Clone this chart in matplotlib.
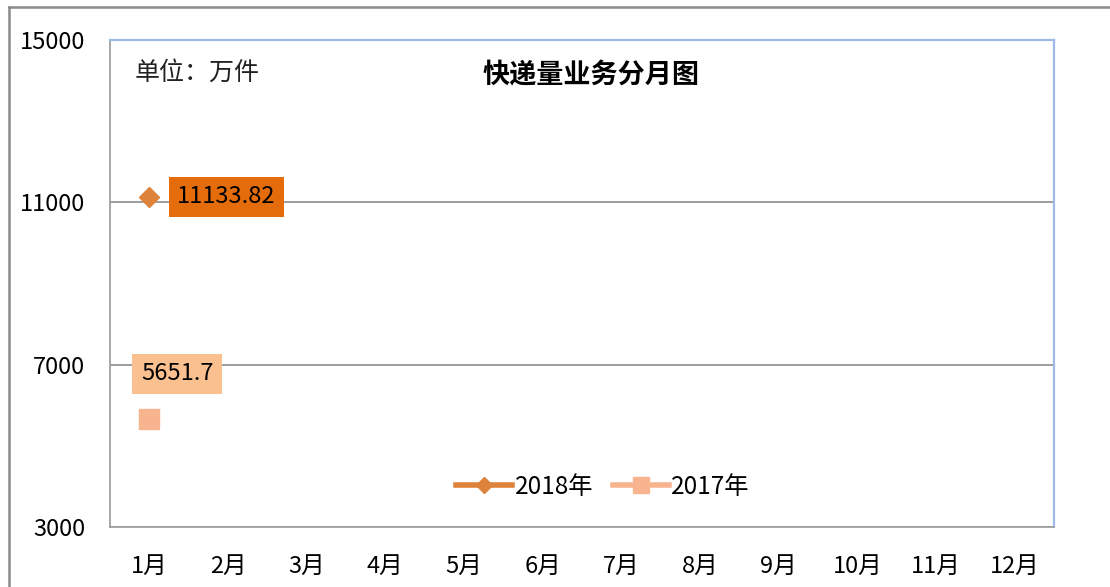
import matplotlib
matplotlib.use('Agg')
import matplotlib.pyplot as plt
from matplotlib.lines import Line2D

plt.rcParams['font.family'] = ['Noto Sans CJK SC', 'DejaVu Sans']

months = ['1月', '2月', '3月', '4月', '5月', '6月', '7月', '8月', '9月', '10月', '11月', '12月']
vals_2018 = [11133.82]          # only January reported so far
vals_2017 = [5651.7]
label_2018 = '11133.82'
label_2017 = '5651.7'
yticks = [3000, 7000, 11000, 15000]

c2018 = '#DC823A'
c2017 = '#F8B48F'

fig = plt.figure(figsize=(11.1, 5.87), dpi=100)
W, H = 1110, 587
ax = fig.add_axes([110 / W, (H - 527) / H, 944 / W, 487 / H])

x18 = list(range(len(vals_2018)))
x17 = list(range(len(vals_2017)))
ax.plot(x18, vals_2018, color=c2018, lw=3, marker='D', ms=10.5, label='2018年', zorder=3)
ax.plot(x17, vals_2017, color=c2017, lw=3, marker='s', ms=14, label='2017年', zorder=3)

ax.set_xlim(-0.5, 11.5)
ax.set_ylim(3000, 15000)
ax.set_xticks(range(12))
ax.set_xticklabels(months)
ax.set_yticks(yticks)
ax.tick_params(axis='both', length=0, labelsize=17)
ax.tick_params(axis='y', pad=18)
ax.tick_params(axis='x', pad=20)

ax.yaxis.grid(True, color='#8C8C8C', lw=1.2)
ax.set_axisbelow(True)
for s in ['left', 'bottom']:
    ax.spines[s].set_color('#A0A0A0')
    ax.spines[s].set_linewidth(1.3)
for s in ['top', 'right']:
    ax.spines[s].set_color('#9DB9E6')
    ax.spines[s].set_linewidth(1.6)

# data labels
ax.annotate(label_2018, (x18[0], vals_2018[0]), xytext=(20, 0), textcoords='offset points',
            ha='left', va='center', fontsize=17,
            bbox=dict(boxstyle='square,pad=0.36', fc='#E46C0A', ec='none'))
ax.annotate(label_2017, (x17[0], vals_2017[0]), xytext=(20, 33), textcoords='offset points',
            ha='center', va='center', fontsize=17,
            bbox=dict(boxstyle='square,pad=0.36', fc='#FAC090', ec='none'))

ax.text((135 - 110) / 944, 1 - 33 / 487, '单位：万件', transform=ax.transAxes,
        ha='left', va='center', fontsize=18, color='#222222')
fig.text(591 / W, 1 - 75 / H, '快递量业务分月图', ha='center', va='center',
         fontsize=19.5, fontweight='bold')

ax.legend(loc='center', bbox_to_anchor=((603 - 110) / 944, 40 / 487), ncol=2,
          frameon=False, fontsize=17.5, handlelength=2.3, columnspacing=0.8,
          handletextpad=0.1, markerscale=0.8)
for ln in ax.get_legend().get_lines():
    ln.set_linewidth(4)

# outer chart frame (clipped at right and bottom)
fig.add_artist(Line2D([8.5 / W, 8.5 / W], [0, 1 - 6.5 / H], color='#8A8A8A', lw=1.8,
                      transform=fig.transFigure))
fig.add_artist(Line2D([8.5 / W, 1], [1 - 6.5 / H, 1 - 6.5 / H], color='#8A8A8A', lw=1.8,
                      transform=fig.transFigure))

fig.savefig('out.png', dpi=100)
